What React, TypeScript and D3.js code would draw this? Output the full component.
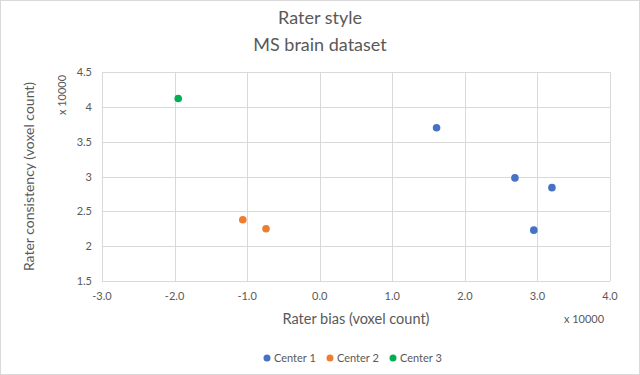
import { useEffect, useRef } from 'react'
import * as d3 from 'd3'

const seriesNames = ['Center 1', 'Center 2', 'Center 3']
const seriesColors = ['#4472C4', '#ED7D31', '#00B050']
const center1X = [1.61, 2.69, 3.2, 2.95]
const center1Y = [3.7, 2.98, 2.84, 2.23]
const center2X = [-1.06, -0.74]
const center2Y = [2.38, 2.25]
const center3X = [-1.95]
const center3Y = [4.12]
const xTicks = [-3, -2, -1, 0, 1, 2, 3, 4]
const yTicks = [1.5, 2, 2.5, 3, 3.5, 4, 4.5]

const FONT = 'Lato, "Open Sans", sans-serif'
const GREY = '#595959'

function App() {
  const ref = useRef<SVGSVGElement | null>(null)

  useEffect(() => {
    const el = ref.current
    if (!el) return
    const width = 640
    const height = 375
    const svg = d3.select(el)
    svg.selectAll('*').remove()

    const plot = { left: 102, right: 610, top: 72, bottom: 281 }
    const x = d3.scaleLinear().domain([-3, 4]).range([plot.left, plot.right])
    const y = d3.scaleLinear().domain([1.5, 4.5]).range([plot.bottom, plot.top])

    svg.append('rect').attr('x', 0.5).attr('y', 0.5).attr('width', width - 1).attr('height', height - 1)
      .attr('fill', '#fff').attr('stroke', '#d9d9d9')

    // titles
    const title = svg.append('text').attr('text-anchor', 'middle').attr('fill', GREY)
      .style('font-family', FONT).style('font-size', '18px')
    title.append('tspan').attr('x', 320).attr('y', 24).text('Rater style')
    title.append('tspan').attr('x', 320).attr('y', 51).text('MS brain dataset')

    // gridlines
    const grid = svg.append('g').attr('stroke', '#d9d9d9').attr('stroke-width', 1)
    xTicks.forEach((t) => {
      grid.append('line').attr('x1', Math.round(x(t)) + 0.5).attr('x2', Math.round(x(t)) + 0.5)
        .attr('y1', plot.top).attr('y2', plot.bottom)
    })
    yTicks.forEach((t) => {
      grid.append('line').attr('y1', Math.round(y(t)) + 0.5).attr('y2', Math.round(y(t)) + 0.5)
        .attr('x1', plot.left).attr('x2', plot.right)
    })

    // tick labels
    const tickG = svg.append('g').attr('fill', GREY).style('font-family', FONT).style('font-size', '11px')
    xTicks.forEach((t) => {
      tickG.append('text').attr('x', x(t)).attr('y', plot.bottom + 19).attr('text-anchor', 'middle')
        .text(t.toFixed(1))
    })
    yTicks.forEach((t) => {
      tickG.append('text').attr('x', plot.left - 10).attr('y', y(t) + 4).attr('text-anchor', 'end')
        .text(String(t))
    })

    // axis titles
    svg.append('text').attr('x', 356).attr('y', 324).attr('text-anchor', 'middle').attr('fill', GREY)
      .style('font-family', FONT).style('font-size', '14.5px').text('Rater bias (voxel count)')
    svg.append('text').attr('x', 584).attr('y', 323).attr('text-anchor', 'middle').attr('fill', GREY)
      .style('font-family', FONT).style('font-size', '11px').text('x 10000')
    svg.append('text').attr('transform', `translate(34, ${(plot.top + plot.bottom) / 2}) rotate(-90)`)
      .attr('text-anchor', 'middle').attr('fill', GREY)
      .style('font-family', FONT).style('font-size', '14px').text('Rater consistency (voxel count)')
    svg.append('text').attr('transform', 'translate(66, 95) rotate(-90)')
      .attr('text-anchor', 'middle').attr('fill', GREY)
      .style('font-family', FONT).style('font-size', '11px').text('x 10000')

    // points
    const series = [
      { xs: center1X, ys: center1Y },
      { xs: center2X, ys: center2Y },
      { xs: center3X, ys: center3Y },
    ]
    series.forEach((s, i) => {
      const pts = s.xs.map((v, j) => ({ x: v, y: s.ys[j] }))
      svg.append('g').selectAll('circle').data(pts).join('circle')
        .attr('cx', (d) => x(d.x)).attr('cy', (d) => y(d.y)).attr('r', 3.8)
        .attr('fill', seriesColors[i])
    })

    // legend
    const legendX = [267, 330, 393]
    const leg = svg.append('g').style('font-family', FONT).style('font-size', '11px')
    seriesNames.forEach((name, i) => {
      leg.append('circle').attr('cx', legendX[i]).attr('cy', 358).attr('r', 3.5).attr('fill', seriesColors[i])
      leg.append('text').attr('x', legendX[i] + 7).attr('y', 362).attr('fill', GREY).text(name)
    })
  }, [])

  return (
    <svg ref={ref} width={640} height={375}
      style={{ position: 'absolute', left: 0, top: 0, display: 'block' }} />
  )
}

export default App
